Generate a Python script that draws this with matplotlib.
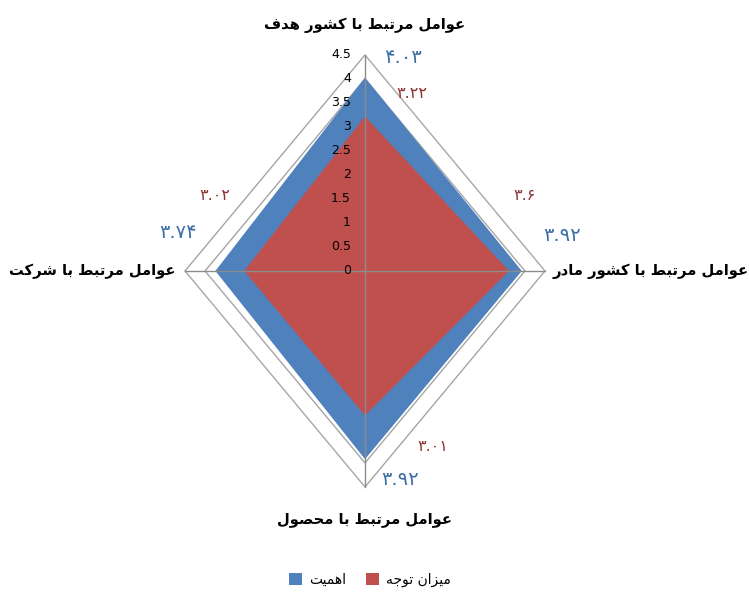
import numpy as np
import matplotlib.pyplot as plt
from matplotlib.patches import Patch

# داده‌ها
categories = ['عوامل مرتبط با کشور هدف', 'عوامل مرتبط با کشور مادر',
              'عوامل مرتبط با محصول', 'عوامل مرتبط با شرکت']
importance = [4.03, 3.92, 3.92, 3.74]      # اهمیت
attention = [3.22, 3.6, 3.01, 3.02]        # میزان توجه
series_names = ['اهمیت', 'میزان توجه']
ticks = [0, 0.5, 1, 1.5, 2, 2.5, 3, 3.5, 4, 4.5]

# ساده‌ترین شکل‌دهی حروف فارسی (matplotlib خودش متن راست‌به‌چپ را نمی‌چیند)
FORMS = {
    'ا': ('\uFE8D', '\uFE8E', None, None), 'د': ('\uFEA9', '\uFEAA', None, None),
    'ر': ('\uFEAD', '\uFEAE', None, None), 'ز': ('\uFEAF', '\uFEB0', None, None),
    'و': ('\uFEED', '\uFEEE', None, None),
    'ب': ('\uFE8F', '\uFE90', '\uFE91', '\uFE92'), 'ت': ('\uFE95', '\uFE96', '\uFE97', '\uFE98'),
    'ج': ('\uFE9D', '\uFE9E', '\uFE9F', '\uFEA0'), 'ح': ('\uFEA1', '\uFEA2', '\uFEA3', '\uFEA4'),
    'ش': ('\uFEB5', '\uFEB6', '\uFEB7', '\uFEB8'), 'ص': ('\uFEB9', '\uFEBA', '\uFEBB', '\uFEBC'),
    'ط': ('\uFEC1', '\uFEC2', '\uFEC3', '\uFEC4'), 'ع': ('\uFEC9', '\uFECA', '\uFECB', '\uFECC'),
    'ف': ('\uFED1', '\uFED2', '\uFED3', '\uFED4'), 'ل': ('\uFEDD', '\uFEDE', '\uFEDF', '\uFEE0'),
    'م': ('\uFEE1', '\uFEE2', '\uFEE3', '\uFEE4'), 'ن': ('\uFEE5', '\uFEE6', '\uFEE7', '\uFEE8'),
    'ه': ('\uFEE9', '\uFEEA', '\uFEEB', '\uFEEC'), 'ک': ('\uFB8E', '\uFB8F', '\uFB90', '\uFB91'),
    'ی': ('\uFBFC', '\uFBFD', '\uFBFE', '\uFBFF'),
}


def fa(text):
    out = []
    for i, ch in enumerate(text):
        if ch not in FORMS:
            out.append(ch)
            continue
        prev = text[i - 1] if i > 0 else ''
        nxt = text[i + 1] if i + 1 < len(text) else ''
        join_prev = prev in FORMS and FORMS[prev][2] is not None
        join_next = FORMS[ch][2] is not None and nxt in FORMS
        iso, fin, ini, med = FORMS[ch]
        if join_prev and join_next:
            out.append(med)
        elif join_prev:
            out.append(fin)
        elif join_next:
            out.append(ini)
        else:
            out.append(iso)
    return ''.join(reversed(out))


def fa_num(v):
    return str(v).translate(str.maketrans('0123456789', '۰۱۲۳۴۵۶۷۸۹'))


blue = '#4F81BD'
red = '#C0504D'
angles = np.radians([90, 0, -90, 180])


def xy(vals):
    v = np.asarray(vals, dtype=float)
    return v * np.cos(angles), v * np.sin(angles)


fig = plt.figure(figsize=(7.49, 5.93), dpi=100)
ax = fig.add_axes([0.247, 0.1788, 0.4806, 0.7285])
ax.set_xlim(-4.5, 4.5)
ax.set_ylim(-4.5, 4.5)
ax.axis('off')

# حلقه‌های شبکه
for t in ticks[1:]:
    gx, gy = xy([t] * 4)
    ax.fill(gx, gy, facecolor='none', edgecolor='#A6A6A6', lw=1, zorder=1, clip_on=False)

bx, by = xy(importance)
ax.fill(bx, by, color=blue, lw=0, zorder=2)
rx, ry = xy(attention)
ax.fill(rx, ry, color=red, lw=0, zorder=3)

# محورها
for a in angles:
    ax.plot([0, 4.5 * np.cos(a)], [0, 4.5 * np.sin(a)], color='#8C8C8C', lw=1, zorder=4, clip_on=False)

for t in ticks:
    ax.annotate(str(t), (0, t), xytext=(-14, 0), textcoords='offset pixels',
                ha='right', va='center', fontsize=9, zorder=5)

# برچسب دسته‌ها
cat_offsets = [(0, 30, 'center'), (8, 0, 'left'), (0, -33, 'center'), (-10, 0, 'right')]
for a, name, (dx, dy, ha) in zip(angles, categories, cat_offsets):
    ax.annotate(fa(name), (4.5 * np.cos(a), 4.5 * np.sin(a)), xytext=(dx, dy),
                textcoords='offset pixels', ha=ha, va='center',
                fontsize=10.6, fontweight='bold', annotation_clip=False)

# برچسب مقادیر
blue_off = [(38, 20), (40, 35), (35, -20), (-37, 38)]
red_off = [(47, 23), (16, 75), (68, -31), (-29, 75)]
for i in range(4):
    ax.annotate(fa_num(importance[i]), (bx[i], by[i]), xytext=blue_off[i],
                textcoords='offset pixels', ha='center', va='center',
                fontsize=14, color='#3C6EA8', annotation_clip=False)
    ax.annotate(fa_num(attention[i]), (rx[i], ry[i]), xytext=red_off[i],
                textcoords='offset pixels', ha='center', va='center',
                fontsize=11.5, color='#8E3533', annotation_clip=False)

handles = [Patch(facecolor=blue), Patch(facecolor=red)]
fig.legend(handles, [fa(s) for s in series_names], loc='center',
           bbox_to_anchor=(370 / 749, 1 - 580 / 593), ncol=2, frameon=False,
           fontsize=10, handlelength=0.9, handleheight=0.9, columnspacing=1.5,
           handletextpad=0.5)

fig.savefig('out.png', dpi=100)
